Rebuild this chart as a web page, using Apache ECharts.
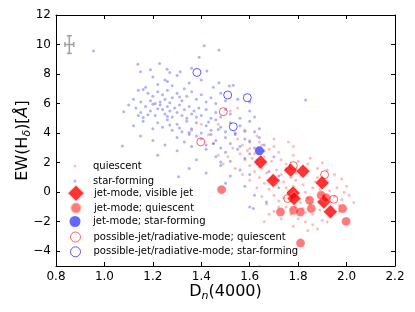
<!DOCTYPE html>
<html><head><meta charset="utf-8">
<script src="https://cdn.jsdelivr.net/npm/echarts@6/dist/echarts.min.js"></script>
<style>html,body{margin:0;padding:0;background:#fff}#c{width:415px;height:312px}</style>
</head><body><div id="c"></div>
<script>
const xTicks = [0.8, 1.0, 1.2, 1.4, 1.6, 1.8, 2.0, 2.2];
const yTicks = [-4, -2, 0, 2, 4, 6, 8, 10, 12];
const errBar = [[0.855, 10, 0.018, 0.6]];
const starFormingPts = [
[0.955,9.56],[1.412,9.92],[1.473,9.63],[1.391,9.13],
[1.138,8.66],[1.228,8.72],[1.149,8.16],[1.259,8.32],[1.313,8.16],[1.423,8.2],[1.19,8.3],[1.27,8.1],[1.36,8.4],
[1.2,7.8],[1.25,7.6],[1.3,7.9],[1.35,7.4],[1.473,7.41],[1.516,7.19],[1.532,7.25],[1.22,7.3],[1.17,7.1],[1.28,7.2],[1.33,7.0],[1.4,7.6],[1.45,7.1],[1.26,7.5],
[1.14,6.9],[1.16,6.95],[1.18,6.7],[1.2,6.5],[1.22,6.8],[1.24,6.6],[1.26,6.9],[1.28,6.4],[1.3,6.7],[1.32,6.2],[1.34,6.5],[1.36,6.8],[1.38,6.3],[1.4,6.6],[1.42,6.1],[1.44,6.4],[1.46,6.0],[1.48,6.7],[1.5,6.2],[1.55,6.3],[1.6,6.1],[1.831,6.24],[1.12,6.3],[1.15,6.1],[1.19,6.2],[1.23,6.1],[1.27,6.05],[1.31,6.45],[1.25,6.3],[1.21,6.0],
[1.08,5.45],[1.1,5.9],[1.13,5.7],[1.15,5.4],[1.17,5.8],[1.19,5.5],[1.21,5.2],[1.23,5.9],[1.24,5.6],[1.25,5.3],[1.26,5.8],[1.27,5.5],[1.28,5.1],[1.29,5.7],[1.3,5.4],[1.31,5.9],[1.32,5.2],[1.33,5.6],[1.34,5.0],[1.35,5.8],[1.36,5.3],[1.37,5.5],[1.38,5.1],[1.39,5.7],[1.4,5.2],[1.42,5.6],[1.44,5.0],[1.46,5.4],[1.48,5.1],[1.5,5.6],[1.52,5.3],[1.56,5.0],[1.6,5.5],[1.62,5.1],[1.2,5.95],[1.22,5.65],[1.26,5.15],[1.18,5.25],[1.16,5.05],[1.14,5.2],
[1.12,4.5],[1.16,4.8],[1.2,4.3],[1.22,4.7],[1.24,4.4],[1.26,4.9],[1.28,4.2],[1.3,4.6],[1.32,4.1],[1.34,4.8],[1.36,4.3],[1.38,4.7],[1.4,4.0],[1.42,4.5],[1.44,4.2],[1.46,4.9],[1.48,4.4],[1.5,4.1],[1.52,4.7],[1.54,4.0],[1.56,4.5],[1.58,4.2],[1.6,4.8],[1.62,4.1],[1.64,4.3],[1.27,4.55],[1.31,4.35],[1.35,4.05],[1.43,4.75],[1.47,4.25],
[1.074,3.12],[1.149,3.8],[1.2,3.5],[1.25,3.2],[1.3,3.7],[1.33,3.4],[1.36,3.1],[1.38,3.8],[1.4,3.6],[1.42,3.2],[1.44,3.9],[1.46,3.5],[1.48,3.0],[1.5,3.7],[1.52,3.3],[1.54,3.9],[1.56,3.1],[1.58,3.6],[1.6,3.4],[1.62,3.0],[1.64,3.7],[1.66,3.2],[1.45,3.3],[1.35,3.9],
[1.22,2.5],[1.3,2.8],[1.38,2.2],[1.42,2.9],[1.46,2.4],[1.5,2.7],[1.52,2.1],[1.55,2.9],[1.58,2.3],[1.6,2.6],[1.63,2.2],[1.66,2.8],[1.7,2.4],[1.48,2.05],
[1.306,1.04],[1.35,1.6],[1.42,1.3],[1.48,1.8],[1.52,1.1],[1.56,1.5],[1.6,1.2],[1.64,1.7],[1.68,1.4],[1.72,1.1],[1.75,1.6],
[1.5,0.6],[1.58,0.4],[1.615,-1.11],[1.669,-0.66],[1.62,-0.2],[1.72,0.3],[1.6,-1.0]
];
const quiescentPts = [
[1.43,3.9],[1.47,4.6],[1.52,5.5],[1.55,5.7],[1.58,4.1],[1.6,3.5],[1.63,3.8],[1.65,3.2],[1.68,2.9],[1.7,3.1],[1.76,3.4],[1.78,2.5],[1.72,2.7],[1.62,2.6],[1.66,2.4],[1.69,2.1],[1.73,2.2],[1.75,1.9],[1.8,2.1],[1.84,1.9],[1.88,1.6],[1.92,1.5],[1.95,1.2],[1.98,0.9],[2.0,0.4],[2.03,-0.7],[2.01,-0.2],[1.97,-0.9],[1.94,-1.6],[1.9,-1.9],[1.88,-2.5],[1.86,-2.2],[1.83,-2.0],[1.8,-1.8],[1.77,-1.5],[1.75,-1.0],[1.72,-0.6],[1.7,-0.2],[1.68,0.2],[1.66,0.6],[1.64,1.0],[1.62,1.4],[1.6,1.8],[1.58,2.2],[1.56,2.6],[1.54,1.6],[1.57,1.2],[1.6,0.8],[1.63,0.3],[1.65,-0.3],[1.67,-0.8],[1.7,-1.3],[1.73,-1.8],[1.76,0.1],[1.78,0.4],[1.79,0.8],[1.81,1.1],[1.82,0.5],[1.83,0.0],[1.84,-0.4],[1.85,-0.8],[1.86,0.3],[1.87,0.7],[1.88,1.0],[1.89,0.2],[1.9,-0.2],[1.91,0.5],[1.92,-0.5],[1.93,0.1],[1.94,-1.0],[1.95,-0.3],[1.96,0.3],[1.97,-1.3],[1.98,-0.5],[1.99,0.0],[1.71,1.5],[1.73,1.2],[1.74,0.7],[1.75,0.3],[1.77,1.0],[1.79,1.3],[1.8,-0.3],[1.81,-0.7],[1.82,-1.1],[1.83,-1.4],[1.79,-1.0],[1.77,-0.6],[1.76,-0.2],[1.74,-0.4],[1.71,0.5],[1.69,0.9],[1.67,1.3],[1.65,1.6],[1.63,1.9],[1.61,2.3],[1.59,2.8],[1.57,3.2],[1.55,3.6],[1.53,3.0],[1.51,2.4],[1.49,1.9],[1.47,2.5],[1.45,3.3],[1.4,4.6],[1.36,4.2],[1.64,-5.0],[1.86,-1.5],[1.89,-1.2],[1.92,-2.0],[1.84,-2.6],[1.78,-2.3],[1.72,-1.0],[1.68,-1.5],[1.66,-2.0],[1.85,2.3],[1.9,2.0],[1.78,3.1],[1.7,3.6],[1.64,3.4],[1.6,2.95]
];
const jetVisible = [[1.645,2.05],[1.697,0.79],[1.769,1.49],[1.82,1.42],[1.779,-0.05],[1.783,-0.43],[1.899,0.63],[1.906,-0.66],[1.933,-1.33]];
const jetQuiescent = [[1.484,0.17],[1.727,-1.34],[1.781,-1.23],[1.809,-1.34],[1.847,-0.55],[1.854,-1.11],[1.895,-0.21],[1.915,-0.37],[1.984,-1.11],[1.998,-1.98],[1.81,-3.45]];
const jetStarForming = [[1.64,2.8]];
const possibleQuiescent = [[1.491,5.45],[1.398,3.41],[1.78,1.8],[1.909,1.18],[1.947,-0.48],[1.757,-0.43]];
const possibleStarForming = [[1.382,8.11],[1.509,6.58],[1.59,6.4],[1.532,4.43]];

const names = ['quiescent','star-forming','jet-mode, visible jet','jet-mode; quiescent','jet-mode; star-forming','possible-jet/radiative-mode; quiescent','possible-jet/radiative-mode; star-forming'];
const legendCenters = [162.5, 177.5, 192.3, 207, 221.5, 236.5, 251.3];
const legendIconH = [3, 3, 18, 11, 11, 10, 10];

const chart = echarts.init(document.getElementById('c'), null, {renderer:'canvas'});
const FONT = 'DejaVu Sans';
const axisCommon = {
  axisLine:{show:true, onZero:false, lineStyle:{color:'#000', width:1}},
  axisTick:{show:true, inside:true, length:4, lineStyle:{color:'#000'}},
  splitLine:{show:false}
};
const legends = names.map((n,i)=>{
  const h = legendIconH[i];
  return {
    data:[n], orient:'vertical', left:75 - h/2, top: legendCenters[i]-h/2, padding:0,
    itemWidth:h, itemHeight:h, itemGap:0, selectedMode:false,
    itemStyle: i>=5 ? {borderWidth:1} : {},
    textStyle:{fontFamily:FONT, fontSize:10, color:'#000', padding:[0,0,0,13 - h/2]}
  };
});
chart.setOption({
  animation:false,
  backgroundColor:'#fff',
  grid:{left:56, right:20, top:15, bottom:46, show:false},
  legend: legends,
  xAxis:[{
    type:'value', min:0.8, max:2.2, interval:0.2, ...axisCommon,
    axisLabel:{fontFamily:FONT, fontSize:12, color:'#000', margin:5, formatter:v=>v.toFixed(1)},
    name:'{a|D}{s|n}{a|(4000)}', nameLocation:'middle', nameGap:16, nameMoveOverlap:false,
    nameTextStyle:{fontFamily:FONT, fontSize:16, color:'#000', rich:{
      a:{fontFamily:FONT, fontSize:16, lineHeight:20, color:'#000'},
      s:{fontFamily:FONT, fontSize:11, lineHeight:11, fontStyle:'italic', verticalAlign:'bottom', color:'#000'}}}
  },{
    type:'value', position:'top', min:0.8, max:2.2, interval:0.2, ...axisCommon, axisLabel:{show:false}
  }],
  yAxis:[{
    type:'value', min:-5, max:12, ...axisCommon,
    axisTick:{show:true, inside:true, length:4, lineStyle:{color:'#000'}, customValues:yTicks},
    axisLabel:{fontFamily:FONT, fontSize:12, color:'#000', margin:5, customValues:yTicks,
      formatter:v=>v<0?'\u2212'+Math.abs(v):String(v)},
    name:'{a|EW(H}{s|\u03b4}{a|)[}{i|\u00c5}{a|]}', nameLocation:'middle', nameGap:23, nameMoveOverlap:false,
    nameTextStyle:{fontFamily:FONT, fontSize:16, color:'#000', rich:{
      a:{fontFamily:FONT, fontSize:16, lineHeight:20, color:'#000'},
      i:{fontFamily:FONT, fontSize:16, lineHeight:20, fontStyle:'italic', color:'#000'},
      s:{fontFamily:FONT, fontSize:11, lineHeight:11, fontStyle:'italic', verticalAlign:'bottom', color:'#000'}}}
  },{
    type:'value', position:'right', min:-5, max:12, ...axisCommon,
    axisTick:{show:true, inside:true, length:4, lineStyle:{color:'#000'}, customValues:yTicks},
    axisLabel:{show:false}
  }],
  series:[
    {type:'custom', silent:true, data:errBar, z:1,
      renderItem:(params, api)=>{
        const x=api.value(0), y=api.value(1), dx=api.value(2), dy=api.value(3);
        const l=api.coord([x-dx,y]), r=api.coord([x+dx,y]), t=api.coord([x,y+dy]), b=api.coord([x,y-dy]);
        const st={stroke:'#a0a0a0', lineWidth:1.5};
        const cap=2.5;
        return {type:'group', children:[
          {type:'line', shape:{x1:l[0],y1:l[1],x2:r[0],y2:r[1]}, style:st},
          {type:'line', shape:{x1:t[0],y1:t[1],x2:b[0],y2:b[1]}, style:st},
          {type:'line', shape:{x1:t[0]-cap,y1:t[1],x2:t[0]+cap,y2:t[1]}, style:st},
          {type:'line', shape:{x1:b[0]-cap,y1:b[1],x2:b[0]+cap,y2:b[1]}, style:st},
          {type:'line', shape:{x1:l[0],y1:l[1]-cap,x2:l[0],y2:l[1]+cap}, style:st},
          {type:'line', shape:{x1:r[0],y1:r[1]-cap,x2:r[0],y2:r[1]+cap}, style:st}
        ]};
      }},
    {name:names[0], type:'scatter', data:quiescentPts, symbol:'circle', symbolSize:3,
      itemStyle:{color:'rgba(255,0,0,0.33)'}},
    {name:names[1], type:'scatter', data:starFormingPts, symbol:'circle', symbolSize:3,
      itemStyle:{color:'rgba(0,0,255,0.38)'}},
    {name:names[2], type:'scatter', data:jetVisible, symbol:'diamond', symbolSize:14,
      itemStyle:{color:'#ff0000', borderColor:'#fff', borderWidth:0.5}},
    {name:names[3], type:'scatter', data:jetQuiescent, symbol:'circle', symbolSize:9,
      itemStyle:{color:'rgba(255,0,0,0.65)', borderColor:'rgba(255,255,255,0.6)', borderWidth:0.5}},
    {name:names[4], type:'scatter', data:jetStarForming, symbol:'circle', symbolSize:9,
      itemStyle:{color:'rgba(0,0,255,0.75)'}},
    {name:names[5], type:'scatter', data:possibleQuiescent, symbol:'circle', symbolSize:8,
      itemStyle:{color:'rgba(0,0,0,0)', borderColor:'rgba(255,0,0,0.75)', borderWidth:1}},
    {name:names[6], type:'scatter', data:possibleStarForming, symbol:'circle', symbolSize:8,
      itemStyle:{color:'rgba(0,0,0,0)', borderColor:'rgba(0,0,255,0.8)', borderWidth:1}}
  ]
});
</script></body></html>
